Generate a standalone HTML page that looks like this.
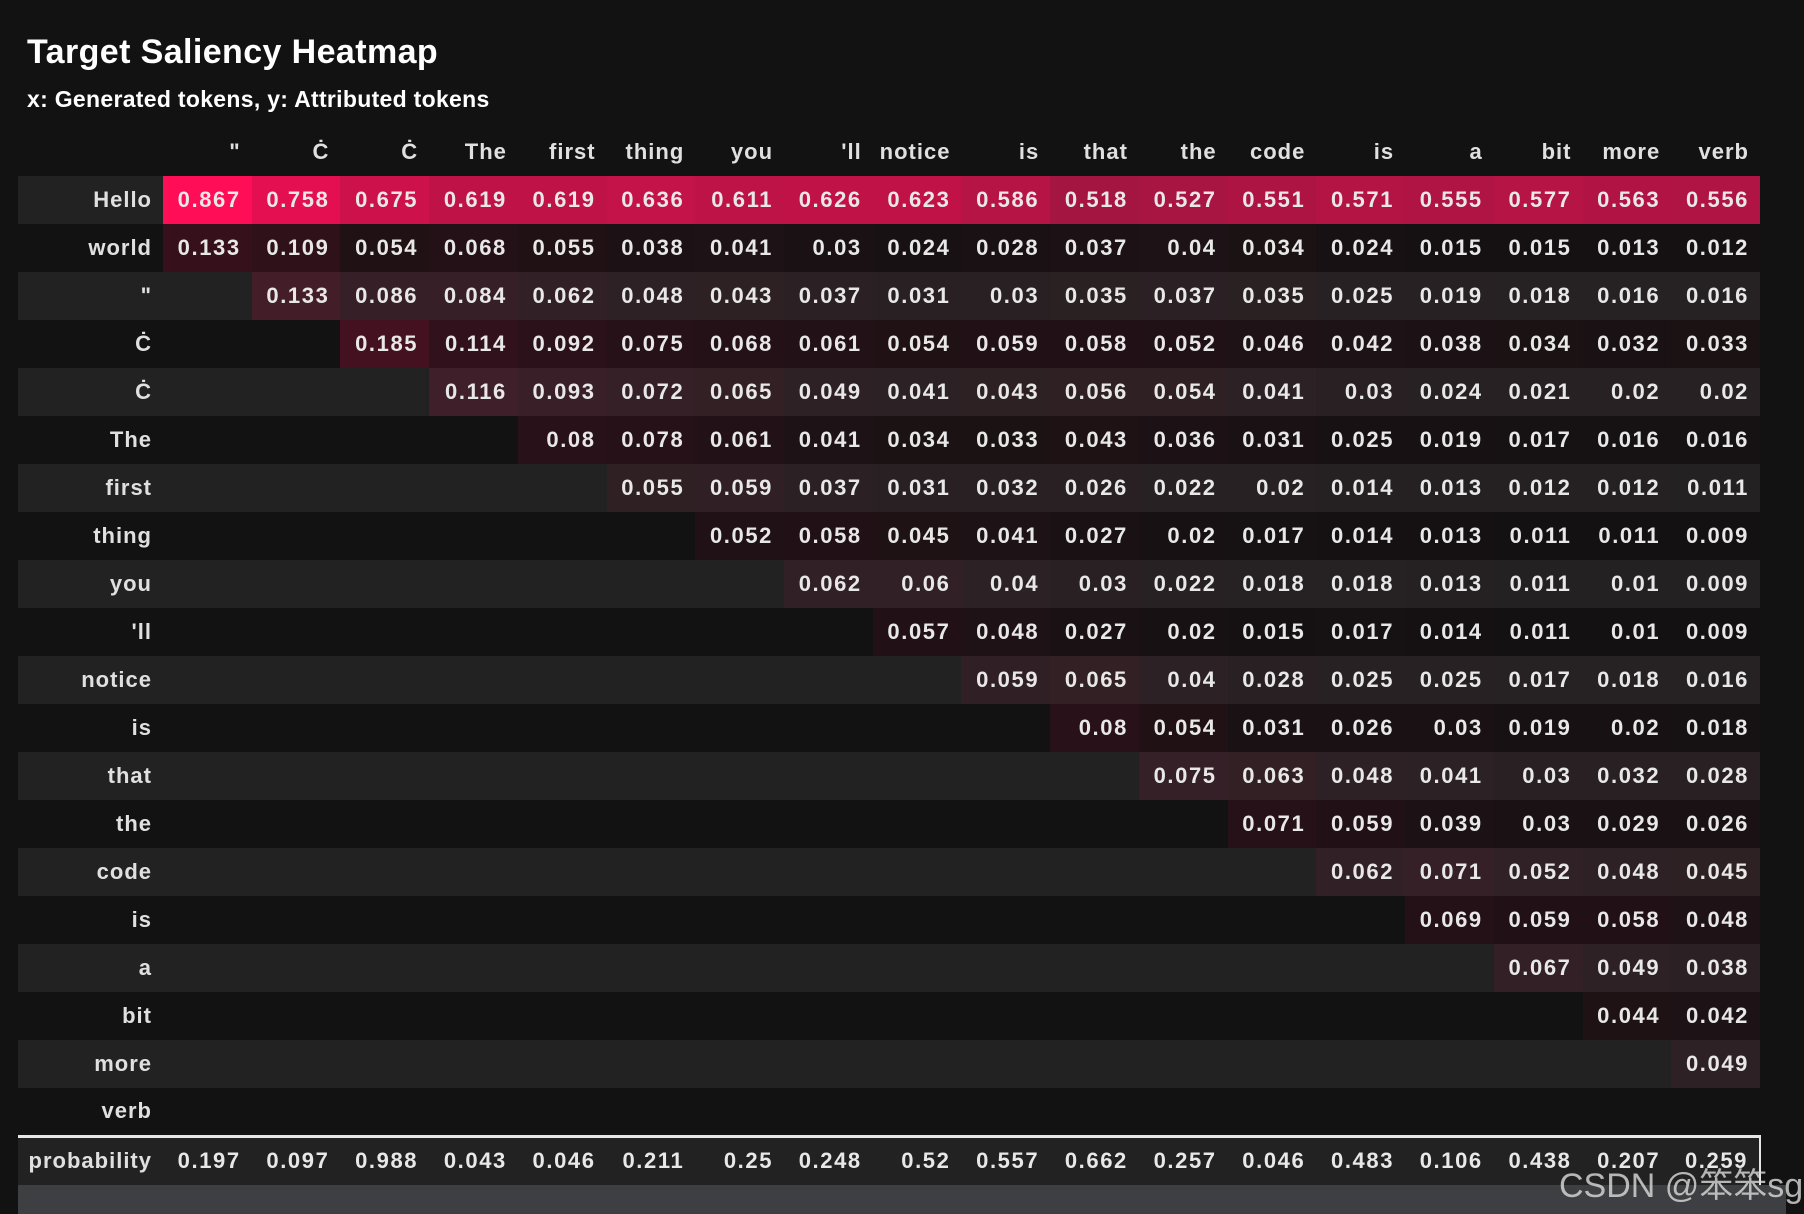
<!DOCTYPE html>
<html><head><meta charset="utf-8"><style>
html,body{margin:0;padding:0;background:#121212;width:1804px;height:1214px;overflow:hidden;}
body{position:relative;font-family:"Liberation Sans",Arial,sans-serif;color:#e8e8e8;}
h1{position:absolute;left:27px;top:33px;margin:0;font-size:34px;font-weight:bold;color:#fff;letter-spacing:0.4px;white-space:nowrap;}
h2{position:absolute;left:27px;top:86px;margin:0;font-size:23px;font-weight:bold;color:#fff;letter-spacing:0.3px;white-space:nowrap;}
table{position:absolute;left:18px;top:128px;border-collapse:collapse;table-layout:fixed;width:1743px;}
col.l{width:145px}
td,th{height:48px;padding:0 11px 0 0;text-align:right;font-weight:bold;font-size:22px;white-space:nowrap;overflow:hidden;box-sizing:border-box;}
td{--v:0;background:rgba(255,13,87,calc(var(--v)*1.153));letter-spacing:1.6px;}
td:empty{background:transparent}
th{color:#e0e0e0;letter-spacing:1px;}
tr.e{background:#222;}
tr.o{background:#121212;}
tr.h{background:#121212;}
tr.p{background:#222;}
tr.p td,tr.p th{border-top:3px solid #e6e6e6;background:transparent;height:49px;}
tr.p td:last-child{border-right:2px solid #e6e6e6;}
.grey{position:absolute;left:18px;top:1185px;width:1768px;height:29px;background:#3e3f42;}
.wm{position:absolute;left:1559px;top:1158px;font-size:34px;white-space:nowrap;color:rgba(220,220,220,0.8);font-family:"Liberation Sans","Noto Sans CJK SC",sans-serif;}
</style></head><body>
<h1>Target Saliency Heatmap</h1>
<h2>x: Generated tokens, y: Attributed tokens</h2>
<table>
<colgroup><col class="l"><col span="18"></colgroup>
<tr class="h"><th></th><th>"</th><th>Ċ</th><th>Ċ</th><th>The</th><th>first</th><th>thing</th><th>you</th><th>'ll</th><th>notice</th><th>is</th><th>that</th><th>the</th><th>code</th><th>is</th><th>a</th><th>bit</th><th>more</th><th>verb</th></tr>
<tr class="e"><th>Hello</th><td style="--v:.867">0.867</td><td style="--v:.758">0.758</td><td style="--v:.675">0.675</td><td style="--v:.619">0.619</td><td style="--v:.619">0.619</td><td style="--v:.636">0.636</td><td style="--v:.611">0.611</td><td style="--v:.626">0.626</td><td style="--v:.623">0.623</td><td style="--v:.586">0.586</td><td style="--v:.518">0.518</td><td style="--v:.527">0.527</td><td style="--v:.551">0.551</td><td style="--v:.571">0.571</td><td style="--v:.555">0.555</td><td style="--v:.577">0.577</td><td style="--v:.563">0.563</td><td style="--v:.556">0.556</td></tr>
<tr class="o"><th>world</th><td style="--v:.133">0.133</td><td style="--v:.109">0.109</td><td style="--v:.054">0.054</td><td style="--v:.068">0.068</td><td style="--v:.055">0.055</td><td style="--v:.038">0.038</td><td style="--v:.041">0.041</td><td style="--v:.03">0.03</td><td style="--v:.024">0.024</td><td style="--v:.028">0.028</td><td style="--v:.037">0.037</td><td style="--v:.04">0.04</td><td style="--v:.034">0.034</td><td style="--v:.024">0.024</td><td style="--v:.015">0.015</td><td style="--v:.015">0.015</td><td style="--v:.013">0.013</td><td style="--v:.012">0.012</td></tr>
<tr class="e"><th>"</th><td></td><td style="--v:.133">0.133</td><td style="--v:.086">0.086</td><td style="--v:.084">0.084</td><td style="--v:.062">0.062</td><td style="--v:.048">0.048</td><td style="--v:.043">0.043</td><td style="--v:.037">0.037</td><td style="--v:.031">0.031</td><td style="--v:.03">0.03</td><td style="--v:.035">0.035</td><td style="--v:.037">0.037</td><td style="--v:.035">0.035</td><td style="--v:.025">0.025</td><td style="--v:.019">0.019</td><td style="--v:.018">0.018</td><td style="--v:.016">0.016</td><td style="--v:.016">0.016</td></tr>
<tr class="o"><th>Ċ</th><td></td><td></td><td style="--v:.185">0.185</td><td style="--v:.114">0.114</td><td style="--v:.092">0.092</td><td style="--v:.075">0.075</td><td style="--v:.068">0.068</td><td style="--v:.061">0.061</td><td style="--v:.054">0.054</td><td style="--v:.059">0.059</td><td style="--v:.058">0.058</td><td style="--v:.052">0.052</td><td style="--v:.046">0.046</td><td style="--v:.042">0.042</td><td style="--v:.038">0.038</td><td style="--v:.034">0.034</td><td style="--v:.032">0.032</td><td style="--v:.033">0.033</td></tr>
<tr class="e"><th>Ċ</th><td></td><td></td><td></td><td style="--v:.116">0.116</td><td style="--v:.093">0.093</td><td style="--v:.072">0.072</td><td style="--v:.065">0.065</td><td style="--v:.049">0.049</td><td style="--v:.041">0.041</td><td style="--v:.043">0.043</td><td style="--v:.056">0.056</td><td style="--v:.054">0.054</td><td style="--v:.041">0.041</td><td style="--v:.03">0.03</td><td style="--v:.024">0.024</td><td style="--v:.021">0.021</td><td style="--v:.02">0.02</td><td style="--v:.02">0.02</td></tr>
<tr class="o"><th>The</th><td></td><td></td><td></td><td></td><td style="--v:.08">0.08</td><td style="--v:.078">0.078</td><td style="--v:.061">0.061</td><td style="--v:.041">0.041</td><td style="--v:.034">0.034</td><td style="--v:.033">0.033</td><td style="--v:.043">0.043</td><td style="--v:.036">0.036</td><td style="--v:.031">0.031</td><td style="--v:.025">0.025</td><td style="--v:.019">0.019</td><td style="--v:.017">0.017</td><td style="--v:.016">0.016</td><td style="--v:.016">0.016</td></tr>
<tr class="e"><th>first</th><td></td><td></td><td></td><td></td><td></td><td style="--v:.055">0.055</td><td style="--v:.059">0.059</td><td style="--v:.037">0.037</td><td style="--v:.031">0.031</td><td style="--v:.032">0.032</td><td style="--v:.026">0.026</td><td style="--v:.022">0.022</td><td style="--v:.02">0.02</td><td style="--v:.014">0.014</td><td style="--v:.013">0.013</td><td style="--v:.012">0.012</td><td style="--v:.012">0.012</td><td style="--v:.011">0.011</td></tr>
<tr class="o"><th>thing</th><td></td><td></td><td></td><td></td><td></td><td></td><td style="--v:.052">0.052</td><td style="--v:.058">0.058</td><td style="--v:.045">0.045</td><td style="--v:.041">0.041</td><td style="--v:.027">0.027</td><td style="--v:.02">0.02</td><td style="--v:.017">0.017</td><td style="--v:.014">0.014</td><td style="--v:.013">0.013</td><td style="--v:.011">0.011</td><td style="--v:.011">0.011</td><td style="--v:.009">0.009</td></tr>
<tr class="e"><th>you</th><td></td><td></td><td></td><td></td><td></td><td></td><td></td><td style="--v:.062">0.062</td><td style="--v:.06">0.06</td><td style="--v:.04">0.04</td><td style="--v:.03">0.03</td><td style="--v:.022">0.022</td><td style="--v:.018">0.018</td><td style="--v:.018">0.018</td><td style="--v:.013">0.013</td><td style="--v:.011">0.011</td><td style="--v:.01">0.01</td><td style="--v:.009">0.009</td></tr>
<tr class="o"><th>'ll</th><td></td><td></td><td></td><td></td><td></td><td></td><td></td><td></td><td style="--v:.057">0.057</td><td style="--v:.048">0.048</td><td style="--v:.027">0.027</td><td style="--v:.02">0.02</td><td style="--v:.015">0.015</td><td style="--v:.017">0.017</td><td style="--v:.014">0.014</td><td style="--v:.011">0.011</td><td style="--v:.01">0.01</td><td style="--v:.009">0.009</td></tr>
<tr class="e"><th>notice</th><td></td><td></td><td></td><td></td><td></td><td></td><td></td><td></td><td></td><td style="--v:.059">0.059</td><td style="--v:.065">0.065</td><td style="--v:.04">0.04</td><td style="--v:.028">0.028</td><td style="--v:.025">0.025</td><td style="--v:.025">0.025</td><td style="--v:.017">0.017</td><td style="--v:.018">0.018</td><td style="--v:.016">0.016</td></tr>
<tr class="o"><th>is</th><td></td><td></td><td></td><td></td><td></td><td></td><td></td><td></td><td></td><td></td><td style="--v:.08">0.08</td><td style="--v:.054">0.054</td><td style="--v:.031">0.031</td><td style="--v:.026">0.026</td><td style="--v:.03">0.03</td><td style="--v:.019">0.019</td><td style="--v:.02">0.02</td><td style="--v:.018">0.018</td></tr>
<tr class="e"><th>that</th><td></td><td></td><td></td><td></td><td></td><td></td><td></td><td></td><td></td><td></td><td></td><td style="--v:.075">0.075</td><td style="--v:.063">0.063</td><td style="--v:.048">0.048</td><td style="--v:.041">0.041</td><td style="--v:.03">0.03</td><td style="--v:.032">0.032</td><td style="--v:.028">0.028</td></tr>
<tr class="o"><th>the</th><td></td><td></td><td></td><td></td><td></td><td></td><td></td><td></td><td></td><td></td><td></td><td></td><td style="--v:.071">0.071</td><td style="--v:.059">0.059</td><td style="--v:.039">0.039</td><td style="--v:.03">0.03</td><td style="--v:.029">0.029</td><td style="--v:.026">0.026</td></tr>
<tr class="e"><th>code</th><td></td><td></td><td></td><td></td><td></td><td></td><td></td><td></td><td></td><td></td><td></td><td></td><td></td><td style="--v:.062">0.062</td><td style="--v:.071">0.071</td><td style="--v:.052">0.052</td><td style="--v:.048">0.048</td><td style="--v:.045">0.045</td></tr>
<tr class="o"><th>is</th><td></td><td></td><td></td><td></td><td></td><td></td><td></td><td></td><td></td><td></td><td></td><td></td><td></td><td></td><td style="--v:.069">0.069</td><td style="--v:.059">0.059</td><td style="--v:.058">0.058</td><td style="--v:.048">0.048</td></tr>
<tr class="e"><th>a</th><td></td><td></td><td></td><td></td><td></td><td></td><td></td><td></td><td></td><td></td><td></td><td></td><td></td><td></td><td></td><td style="--v:.067">0.067</td><td style="--v:.049">0.049</td><td style="--v:.038">0.038</td></tr>
<tr class="o"><th>bit</th><td></td><td></td><td></td><td></td><td></td><td></td><td></td><td></td><td></td><td></td><td></td><td></td><td></td><td></td><td></td><td></td><td style="--v:.044">0.044</td><td style="--v:.042">0.042</td></tr>
<tr class="e"><th>more</th><td></td><td></td><td></td><td></td><td></td><td></td><td></td><td></td><td></td><td></td><td></td><td></td><td></td><td></td><td></td><td></td><td></td><td style="--v:.049">0.049</td></tr>
<tr class="o"><th>verb</th><td></td><td></td><td></td><td></td><td></td><td></td><td></td><td></td><td></td><td></td><td></td><td></td><td></td><td></td><td></td><td></td><td></td><td></td></tr>
<tr class="p"><th>probability</th><td>0.197</td><td>0.097</td><td>0.988</td><td>0.043</td><td>0.046</td><td>0.211</td><td>0.25</td><td>0.248</td><td>0.52</td><td>0.557</td><td>0.662</td><td>0.257</td><td>0.046</td><td>0.483</td><td>0.106</td><td>0.438</td><td>0.207</td><td>0.259</td></tr>
</table>
<div class="grey"></div>
<div class="wm">CSDN @笨笨sg</div>
</body></html>
